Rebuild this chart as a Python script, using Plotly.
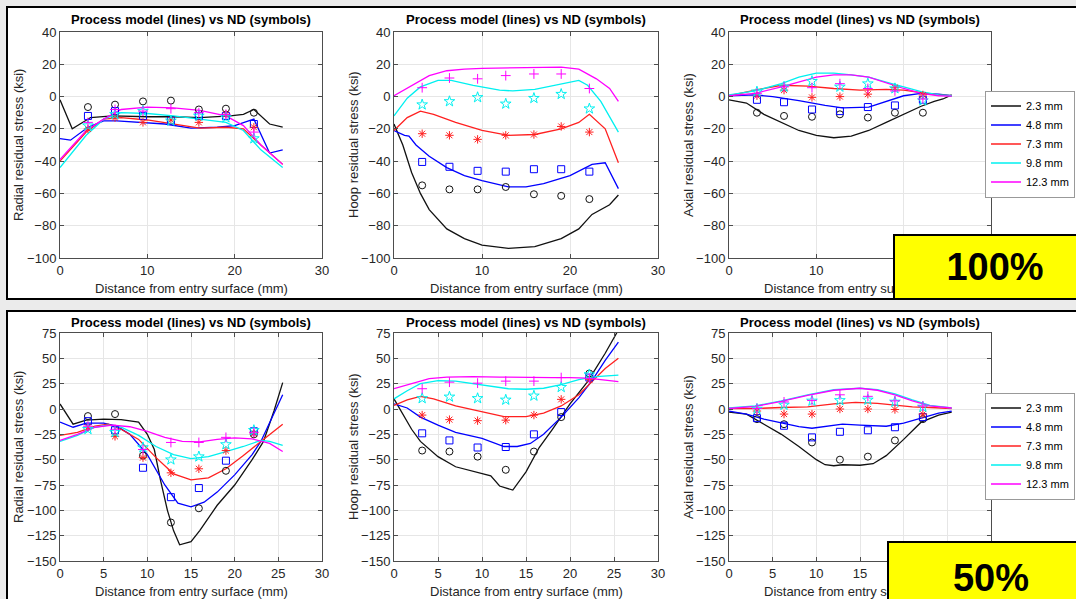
import plotly.graph_objects as go

# ---------------- data ----------------
DEPTHS = ["2.3 mm", "4.8 mm", "7.3 mm", "9.8 mm", "12.3 mm"]
COLORS = ["#111111", "#0000ff", "#ff2020", "#00f0f0", "#ff00ff"]
SYMBOLS = ["circle-open", "square-open", "asterisk-open", "star-open", "cross-thin-open"]
ND_X = [3.2, 6.3, 9.5, 12.7, 15.9, 19.0, 22.2]

# ---- 100% : radial ----
RAD100_MODEL = {
    "2.3 mm": ([0, 1.4, 3.5, 6, 10, 13, 16, 19.5, 21, 22.2, 24, 25.5],
               [-2, -20, -13, -12, -12.5, -12.5, -13, -12, -11, -8, -17, -19]),
    "4.8 mm": ([0, 1.2, 3.2, 5, 6.5, 10, 12, 15, 18, 20, 22.2, 24, 25.5],
               [-26, -27, -19, -15, -15, -16, -17, -19.5, -19, -18, -14, -35, -33]),
    "7.3 mm": ([0, 3, 5, 7, 10, 13, 16, 19, 21, 23, 25.5],
               [-40, -22, -14, -13, -14.5, -17, -19.5, -19, -20, -30, -42]),
    "9.8 mm": ([0, 3, 5, 7, 10, 13, 16, 19, 21, 23, 25.5],
               [-44, -24, -14, -10, -10.5, -12, -14, -16, -21, -33, -44]),
    "12.3 mm": ([0, 3, 5, 7, 10, 13, 16, 19, 21, 23, 25.5],
                [-39, -21, -14, -8, -6.5, -7, -8.5, -12, -18, -30, -42]),
}
RAD100_ND = {
    "2.3 mm": [-6.5, -5, -3, -2.5, -8, -7.5, -10],
    "4.8 mm": [-12, -9, -12, -15, -12, -12, -17],
    "7.3 mm": [-20, -13, -16, -14.5, -16, -11, -19],
    "9.8 mm": [-18, -11, -9, -15, -12, -13, -26],
    "12.3 mm": [-16, -8, -9, -7.5, -10, -11, -22],
}

# ---- 100% : hoop ----
HOOP100_MODEL = {
    "2.3 mm": ([0, 1, 2, 3, 4, 6, 8, 10, 13, 16, 19, 21, 22.5, 24.5, 25.5],
               [-17, -30, -47, -60, -70, -82, -88, -92, -94, -93, -88, -82, -73, -67, -61]),
    "4.8 mm": ([0, 1.2, 1.7, 2.5, 4, 6, 8, 10, 13, 15, 17, 20, 22.5, 24, 25.5],
               [-21, -24, -24.5, -30, -37, -44, -49, -52, -56, -56, -54, -49, -42, -41, -57]),
    "7.3 mm": ([0, 1.5, 3, 4.5, 7, 10, 13, 16, 19, 21, 22.2, 24, 25.5],
               [-21, -13, -9, -11, -16, -21, -24, -23.5, -20, -16, -11, -20, -41]),
    "9.8 mm": ([0, 1.5, 3, 5, 6.5, 9, 12, 13.5, 16, 19, 21, 22, 23.5, 25.5],
               [-12, -1, 6, 10, 10, 7, 4, 3.5, 4.5, 8, 10, 7, -3, -22]),
    "12.3 mm": ([0, 1.5, 3, 4, 6, 8, 10, 14, 18, 19, 21, 23, 24.5, 25.5],
                [0.5, 5, 10, 13, 16, 17, 17.5, 18, 18.5, 18.2, 17, 11, 5, -3]),
}
HOOP100_ND = {
    "2.3 mm": [-55, -57.5, -57.5, -56, -60.5, -61.5, -63.5],
    "4.8 mm": [-40.5, -43.5, -46, -46.5, -45, -45, -46.5],
    "7.3 mm": [-23, -24, -26.5, -24, -23.5, -18.5, -22],
    "9.8 mm": [-5, -3, -0.5, -4.5, -1, 1.5, -7.5],
    "12.3 mm": [5.5, 11.5, 11, 13, 14, 14, 5],
}

# ---- 100% : axial ----
AX100_MODEL = {
    "2.3 mm": ([0, 2, 4, 6, 8, 10, 12, 14, 16, 18, 20, 22, 23.5, 24.5, 25.5],
               [-2, -4, -11, -16, -21, -24, -25.5, -24.5, -21, -16, -11, -6, -3, -1.5, 1]),
    "4.8 mm": ([0, 3, 5, 8, 11, 13, 16, 18, 20, 22, 24, 25.5],
               [0.5, 1, 0, -2.5, -5.5, -7, -6.5, -3, 0.5, 2, 1.5, 0.5]),
    "7.3 mm": ([0, 3, 6, 9, 12, 15, 18, 20, 22, 24, 25.5],
               [0.5, 4, 7, 6.5, 5, 4, 4.5, 4, 2.5, 1, 0.5]),
    "9.8 mm": ([0, 3, 6, 8, 10, 12, 14, 16, 18, 20, 22, 24, 25.5],
               [1, 3.5, 8, 12, 14.5, 14.5, 13.5, 12, 9, 6, 3, 1, 0.5]),
    "12.3 mm": ([0, 3, 6, 8, 10, 12, 14, 16, 18, 20, 22, 24, 25.5],
                [0.5, 2, 6, 9, 12, 13.5, 13.5, 12, 8.5, 5, 2, 0.5, 0.3]),
}
AX100_ND = {
    "2.3 mm": [-10, -12, -12.5, -11, -13, -10, -10],
    "4.8 mm": [-2, -3.5, -8, -9, -6.5, -5.5, -2],
    "7.3 mm": [0.5, 4, -0.5, 0, 1.5, 5.5, 1],
    "9.8 mm": [3, 6, 9.5, 6, 8, 5, -2.5],
    "12.3 mm": [2, 6, 5.5, 8, 5, 3.5, -1.5],
}

# ---- 50% : radial ----
RAD50_MODEL = {
    "2.3 mm": ([0, 1.5, 3, 5, 7, 9, 10, 10.8, 11.5, 12.3, 13, 13.7, 15, 16, 18, 20, 22, 23.3, 24.5, 25.5],
               [5, -15, -11, -10, -10.5, -13, -25, -40, -70, -100, -120, -134, -131, -120, -95, -75, -50, -32, -2, 26]),
    "4.8 mm": ([0, 1.5, 3, 5, 6.5, 8, 10, 12, 13.5, 15, 16.5, 18, 20, 22, 23, 24.5, 25.5],
               [-13, -18, -14, -14, -17, -25, -45, -75, -93, -96.5, -92, -82, -65, -45, -32, -5, 14]),
    "7.3 mm": ([0, 2, 4, 5.5, 7, 9, 11, 13, 15, 17, 19, 21, 23, 24, 25.5],
               [-26, -23, -17, -15, -20, -30, -48, -64, -70, -68, -59, -46, -32, -25, -15]),
    "9.8 mm": ([0, 2, 4, 5.5, 7, 9, 11, 13, 15, 17, 19, 21, 23, 24, 25.5],
               [-32, -26, -18, -16, -18, -26, -37, -45, -49, -47, -42, -37, -31, -32, -36]),
    "12.3 mm": ([0, 2, 4, 6, 8, 10, 12, 14, 16, 18, 20, 22, 24, 25.5],
                [-31, -25, -18, -16, -17.5, -22, -28, -32, -32.5, -30, -28.5, -29.5, -34, -42]),
}
RAD50_ND = {
    "2.3 mm": [-7, -5, -46, -112, -98, -61, -25],
    "4.8 mm": [-12, -21, -58, -87, -78, -51, -22],
    "7.3 mm": [-18, -27, -48, -63, -59, -41, -24],
    "9.8 mm": [-20, -23, -38, -50, -47, -35, -21],
    "12.3 mm": [-17, -20, -40, -33, -33, -28, -23],
}

# ---- 50% : hoop ----
HOOP50_MODEL = {
    "2.3 mm": ([0, 1, 2, 3, 5, 7, 10, 11, 12, 13.5, 15, 16.5, 18, 20, 22, 24, 25.5],
               [10, -5, -20, -32, -47, -57, -64, -66, -76, -80, -62, -38, -20, 5, 27, 55, 78]),
    "4.8 mm": ([0, 1.5, 3, 5, 7, 10, 12.5, 14, 15.5, 17, 19, 21, 22.5, 24, 25.5],
               [5, 1, -8, -16, -23, -29, -37, -37, -34, -25, -8, 11, 28, 48, 66]),
    "7.3 mm": ([0, 1.5, 3, 4.5, 7, 10, 12.5, 15, 17, 19, 21, 22.5, 24, 25.5],
               [3.5, 9, 12.5, 10, 3, -3, -7.5, -7.5, -4, 3, 14, 27, 40, 50]),
    "9.8 mm": ([0, 1.5, 3, 5, 7, 10, 13, 15, 17, 19, 21, 23, 25.5],
               [10, 18, 25, 28, 27.5, 24, 20, 19.5, 20.5, 24, 29, 32, 33.5]),
    "12.3 mm": ([0, 2, 4, 6, 9, 12, 15, 18, 20, 22, 24, 25.5],
                [20, 25, 30, 31.5, 32, 31.5, 31, 31, 31, 30.5, 28.5, 27]),
}
HOOP50_ND = {
    "2.3 mm": [-41, -42, -47, -60, -42, -8, 35],
    "4.8 mm": [-24, -31, -38, -37.5, -25, -3, 31],
    "7.3 mm": [-6, -10.5, -11.5, -11, -6, 9.5, 29],
    "9.8 mm": [10.5, 12, 10.5, 9, 13, 21.5, 34],
    "12.3 mm": [20, 26.5, 25.5, 27.5, 27.5, 31, 30],
}

# ---- 50% : axial ----
AX50_MODEL = {
    "2.3 mm": ([0, 2, 4, 6, 8, 10, 11, 12, 13, 15, 16.5, 18, 20, 22, 24, 25.5],
               [-3, -5, -15, -25, -37, -50, -55, -56, -55, -55.5, -54, -46, -30, -13, -6, -3]),
    "4.8 mm": ([0, 2, 4, 6, 8, 9.5, 11, 13, 15, 17, 18, 20, 22, 24, 25.5],
               [-2, -5, -10, -14, -17.5, -19, -17.5, -15, -16, -17, -17, -14, -9, -4, -2]),
    "7.3 mm": ([0, 3, 6, 9, 12, 14.5, 17, 19, 21, 23, 25.5],
               [0.5, 0.5, 1.5, 2, 5, 6.5, 5.5, 3.5, 2, 1.5, 0.5]),
    "9.8 mm": ([0, 3, 6, 9, 12, 15, 17, 19, 21, 23, 25.5],
               [1, 3, 8, 14, 19, 20.5, 19, 15, 9, 3.5, 1]),
    "12.3 mm": ([0, 3, 6, 9, 12, 15, 17, 19, 21, 23, 25.5],
                [0.5, 2.5, 7.5, 13.5, 18.5, 20.5, 18.5, 14, 8, 3, 1]),
}
AX50_ND = {
    "2.3 mm": [-10, -15, -33, -50, -47, -31, -10],
    "4.8 mm": [-9, -16.5, -28, -22.5, -21, -18, -8],
    "7.3 mm": [-2, -5, -5, 0, 0, -0.5, -5],
    "9.8 mm": [0, 4, 8, 8.5, 9, 7, 2],
    "12.3 mm": [0.5, 7, 8.5, 14, 12.5, 8, 3],
}

TITLE = "<b>Process model (lines) vs ND (symbols)</b>"
X_TITLE = "Distance from entry surface (mm)"
Y_TITLES = ["Radial residual stress (ksi)", "Hoop residual stress (ksi)", "Axial residual stress (ksi)"]
ROW_LABELS = ["100%", "50%"]
Y_RANGES = [[-100, 40], [-150, 75]]
Y_DTICK = [20, 25]
X_DTICK = [10, 5]

# ---------------- layout helpers ----------------
W, H = 1076, 599
FONT = "Liberation Sans, Arial, Helvetica, sans-serif"
SLIDE_BG = "#ebebeb"


def px(x):
    return x / W


def py(y):
    return 1 - y / H


COLS = [(60, 322), (394, 658), (729, 991)]
ROWS = [(32, 258), (333, 561)]
YTITLE_X = [18, 353, 688]
XTITLE_Y = [288, 591]
TITLE_Y = [20, 322]

panels = [
    [(RAD100_MODEL, RAD100_ND), (HOOP100_MODEL, HOOP100_ND), (AX100_MODEL, AX100_ND)],
    [(RAD50_MODEL, RAD50_ND), (HOOP50_MODEL, HOOP50_ND), (AX50_MODEL, AX50_ND)],
]

fig = go.Figure()
layout = dict(
    width=W, height=H,
    margin=dict(l=0, r=0, t=0, b=0, pad=0, autoexpand=False),
    paper_bgcolor=SLIDE_BG,
    plot_bgcolor="#ffffff",
    font=dict(family=FONT, size=13, color="#262626"),
    showlegend=True,
    hovermode=False,
)
annotations = []
shapes = []

# white slide panels with black border
shapes.append(dict(type="rect", xref="paper", yref="paper", layer="below",
                   x0=px(7), x1=px(1100), y0=py(299), y1=py(7),
                   fillcolor="#ffffff", line=dict(color="#000000", width=2)))
shapes.append(dict(type="rect", xref="paper", yref="paper", layer="below",
                   x0=px(7), x1=px(1100), y0=py(640), y1=py(311),
                   fillcolor="#ffffff", line=dict(color="#000000", width=2)))

idx = 0
for r in range(2):
    for c in range(3):
        idx += 1
        xa = "x" if idx == 1 else f"x{idx}"
        ya = "y" if idx == 1 else f"y{idx}"
        model, nd = panels[r][c]
        legend_name = "legend" if r == 0 else "legend2"
        for k, d in enumerate(DEPTHS):
            mx, my = model[d]
            fig.add_trace(go.Scatter(
                x=mx, y=my, mode="lines", name=d,
                line=dict(color=COLORS[k], width=1.3),
                xaxis=xa, yaxis=ya, legend=legend_name,
                showlegend=(c == 2), cliponaxis=True,
            ))
        for k, d in enumerate(DEPTHS):
            fig.add_trace(go.Scatter(
                x=ND_X, y=nd[d], mode="markers", name=d + " ND",
                marker=dict(symbol=SYMBOLS[k], size=7 if k != 3 else 8,
                            color=COLORS[k], line=dict(color=COLORS[k], width=1)),
                xaxis=xa, yaxis=ya, showlegend=False,
            ))
        axis_common = dict(showline=True, mirror="ticks", linecolor="#4d4d4d", linewidth=1,
                           ticks="inside", ticklen=4, tickcolor="#4d4d4d",
                           showgrid=True, gridcolor="#e6e6e6", gridwidth=1,
                           zeroline=False, automargin=False,
                           tickfont=dict(size=13, color="#262626"))
        xkey = "xaxis" if idx == 1 else f"xaxis{idx}"
        ykey = "yaxis" if idx == 1 else f"yaxis{idx}"
        layout[xkey] = dict(axis_common, domain=[px(COLS[c][0]), px(COLS[c][1])],
                            anchor=ya, range=[0, 30], dtick=X_DTICK[r], tick0=0)
        layout[ykey] = dict(axis_common, domain=[py(ROWS[r][1]), py(ROWS[r][0])],
                            anchor=xa, range=Y_RANGES[r], dtick=Y_DTICK[r], tick0=0)
        cx = (COLS[c][0] + COLS[c][1]) / 2
        annotations.append(dict(text=TITLE, xref="paper", yref="paper", x=px(cx), y=py(TITLE_Y[r]),
                                xanchor="center", yanchor="middle", showarrow=False,
                                font=dict(size=13, color="#000000")))
        annotations.append(dict(text=X_TITLE, xref="paper", yref="paper", x=px(cx), y=py(XTITLE_Y[r]),
                                xanchor="center", yanchor="middle", showarrow=False,
                                font=dict(size=13, color="#262626")))
        annotations.append(dict(text=Y_TITLES[c], xref="paper", yref="paper", x=px(YTITLE_X[c]),
                                y=py((ROWS[r][0] + ROWS[r][1]) / 2), textangle=-90,
                                xanchor="center", yanchor="middle", showarrow=False,
                                font=dict(size=13, color="#262626")))

legend_style = dict(bgcolor="#ffffff", bordercolor="#999999", borderwidth=1,
                    font=dict(size=11, color="#000000"), itemwidth=30,
                    tracegroupgap=0, xanchor="left", yanchor="middle")
layout["legend"] = dict(legend_style, x=px(985), y=py(144))
layout["legend2"] = dict(legend_style, x=px(985), y=py(446))

# yellow labels
annotations.append(dict(text="<b>" + ROW_LABELS[0] + "</b>", xref="paper", yref="paper",
                        x=px(893), y=py(234), xanchor="left", yanchor="top",
                        width=200, height=62, bgcolor="#ffff00", bordercolor="#000000",
                        borderwidth=2, borderpad=0, showarrow=False, align="center", valign="middle",
                        font=dict(size=38, color="#000000", family=FONT)))
annotations.append(dict(text="<b>" + ROW_LABELS[1] + "</b>", xref="paper", yref="paper",
                        x=px(887), y=py(541), xanchor="left", yanchor="top",
                        width=204, height=70, bgcolor="#ffff00", bordercolor="#000000",
                        borderwidth=2, borderpad=0, showarrow=False, align="center", valign="middle",
                        font=dict(size=38, color="#000000", family=FONT)))

layout["annotations"] = annotations
layout["shapes"] = shapes
fig.update_layout(**layout)
fig.write_html(
    "out.html",
    config={"displayModeBar": False},
    post_script="document.body.style.margin='0';document.body.style.overflow='hidden';"
                "document.body.style.background='" + SLIDE_BG + "';",
)
